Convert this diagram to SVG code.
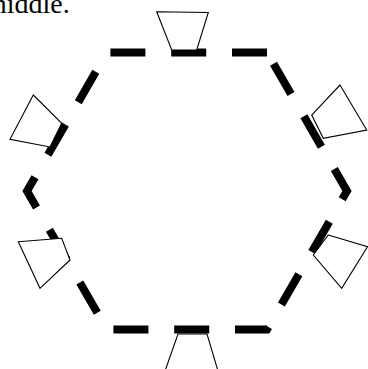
<svg xmlns="http://www.w3.org/2000/svg" width="368" height="369" viewBox="0 0 368 369">
  <style>
    .hex { fill: none; stroke: #000; stroke-width: 8; stroke-dasharray: 35 25.8; }
    .spk { fill: #fff; stroke: #000; stroke-width: 1.1; stroke-linejoin: miter; }
    .txt { font-family: "Liberation Serif", "Times New Roman", serif; font-size: 28px; fill: #000; }
  </style>
  <rect width="368" height="369" fill="#fff"/>
  <text class="txt" x="-15" y="12.5">middle.</text>
  <g id="connectors">
    <path id="hexagon" class="hex" d="M267,52.44 L107,52.44 L27,191 L107,329.56 L267,329.56 L347,191 Z"/>
  </g>
  <g id="speaker-top">
    <polygon class="spk" points="156.7,11.7 208.3,12.5 196.7,50 171.7,50"/>
  </g>
  <g id="speaker-top-right">
    <polygon class="spk" points="340,85 366.7,130 323.3,138.3 311.7,115"/>
  </g>
  <g id="speaker-bottom-right">
    <polygon class="spk" points="328.3,235 367.5,246.7 341.7,288.3 313.3,255"/>
  </g>
  <g id="speaker-bottom">
    <polygon class="spk" points="178,334 207,334 218,371 165,371"/>
  </g>
  <g id="speaker-bottom-left">
    <polygon class="spk" points="18.3,241.7 61.7,238.3 70,260 40,288.3"/>
  </g>
  <g id="speaker-top-left">
    <polygon class="spk" points="33.3,95 61.7,123.3 50,147 10,139.3"/>
  </g>
</svg>
